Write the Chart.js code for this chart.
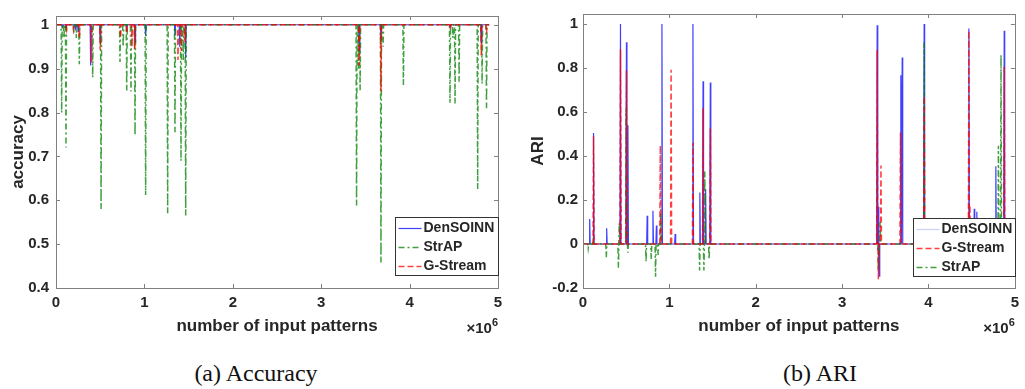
<!DOCTYPE html>
<html>
<head>
<meta charset="utf-8">
<script src="https://cdn.jsdelivr.net/npm/chart.js@4/dist/chart.umd.min.js"></script>
<style>
  body { margin: 0; background: #fff; width: 1025px; height: 389px; position: relative; overflow: hidden; }
  canvas { position: absolute; top: 0; }
  #accCanvas { left: 0; }
  #ariCanvas { left: 520px; }
  .caption { position: absolute; top: 360px; font-family: "Liberation Serif", serif; font-size: 24px; line-height: 26px; color: #111; transform: translateX(-50%); white-space: nowrap; }
</style>
</head>
<body>
<canvas id="accCanvas" width="512" height="345"></canvas>
<canvas id="ariCanvas" width="505" height="345"></canvas>
<div class="caption" style="left:256px">(a) Accuracy</div>
<div class="caption" style="left:820px">(b) ARI</div>
<script>
// x values are in millions of input patterns (axis shows x10^6)
const xTicks = [0, 1, 2, 3, 4, 5];
const accTicks = [0.4, 0.5, 0.6, 0.7, 0.8, 0.9, 1];
const ariTicks = [-0.2, 0, 0.2, 0.4, 0.6, 0.8, 1];

// Accuracy (a): dips below 1
const denAccX = [0.07, 0.113, 0.22, 0.25, 0.392, 0.50, 0.80, 0.894, 1.014, 1.346, 1.40, 1.467, 3.43, 3.676, 4.46, 4.81];
const denAccY = [0.995, 0.99, 0.99, 0.985, 0.907, 0.96, 0.985, 0.96, 0.975, 0.975, 0.95, 0.925, 0.94, 0.962, 0.995, 0.96];
const strapAccX = [0.064, 0.09, 0.113, 0.2, 0.23, 0.264, 0.415, 0.51, 0.724, 0.76, 0.80, 0.848, 0.894, 1.014, 1.263, 1.346, 1.414, 1.44, 1.467, 3.40, 3.42, 3.44, 3.676, 3.70, 3.93, 4.457, 4.49, 4.514, 4.56, 4.77, 4.82, 4.87];
const strapAccY = [0.80, 0.97, 0.72, 0.98, 0.97, 0.91, 0.88, 0.58, 0.915, 0.95, 0.85, 0.848, 0.748, 0.612, 0.57, 0.755, 0.69, 0.92, 0.565, 0.588, 0.90, 0.85, 0.458, 0.95, 0.862, 0.822, 0.97, 0.82, 0.87, 0.625, 0.866, 0.81];
const gsAccX = [0.12, 0.20, 0.264, 0.40, 0.50, 0.73, 0.80, 0.86, 0.89, 1.38, 1.42, 1.46, 3.43, 3.676, 4.46, 4.81, 4.87];
const gsAccY = [0.99, 0.99, 0.97, 0.914, 0.943, 0.97, 0.98, 0.95, 0.945, 0.92, 0.94, 0.96, 0.907, 0.848, 0.99, 0.93, 0.98];

// ARI (b): spikes around 0
const denAriX = [0.077, 0.122, 0.274, 0.434, 0.503, 0.52, 0.743, 0.81, 0.85, 0.914, 1.067, 1.273, 1.353, 1.39, 1.42, 1.474, 3.406, 3.42, 3.43, 3.68, 3.696, 3.95, 4.468, 4.53, 4.56, 4.78, 4.877];
const denAriY = [0.114, 0.505, 0.072, 1.0, 0.917, 0.54, 0.129, 0.151, 0.084, 1.0, 0.045, 1.0, 0.234, 0.74, 0.25, 0.735, 0.995, 0.17, -0.146, 0.767, 0.848, 1.0, 0.98, 0.16, 0.147, 0.354, 0.97];
const gsAriX = [0.122, 0.434, 0.503, 0.895, 1.02, 1.273, 1.39, 1.474, 3.406, 3.42, 3.45, 3.676, 3.95, 4.468, 4.48, 4.877];
const gsAriY = [0.49, 0.886, 0.79, 0.447, 0.793, 0.46, 0.617, 0.525, 0.883, -0.16, 0.357, 0.507, 0.672, 0.97, 0.177, 0.807];
const strapAriX = [0.06, 0.12, 0.27, 0.41, 0.42, 0.50, 0.52, 0.73, 0.79, 0.84, 0.87, 0.90, 1.35, 1.40, 1.41, 1.46, 3.42, 3.44, 3.95, 4.81, 4.84];
const strapAriY = [-0.02, 0.03, -0.06, -0.108, 0.095, 0.62, -0.04, -0.08, -0.07, -0.149, -0.05, 0.14, -0.12, -0.12, 0.33, -0.07, -0.12, 0.1, 0.92, 0.447, 0.86];

const BLUE = 'rgba(0,0,255,0.75)';
const RED = 'rgba(255,0,0,0.75)';
const GREEN = 'rgba(0,128,0,0.75)';
const AXIS = '#808080';
const TEXT = '#262626';
const FONT = '"Liberation Sans", Arial, sans-serif';

// Turn a list of spikes into a line sitting on the baseline
function spikes(xs, ys, base) {
  const pts = [{x: 0, y: base}];
  xs.forEach((x, i) => {
    pts.push({x: x - 0.006, y: base}, {x: x, y: ys[i]}, {x: x + 0.006, y: base});
  });
  pts.push({x: 4.9, y: base});
  return pts;
}

function series(label, data, color, dash, width, order) {
  return {label, data, borderColor: color, borderDash: dash, borderWidth: width,
    pointRadius: 0, tension: 0, fill: false, order};
}

// MATLAB-like box, inward ticks, legend and exponent label
const matlabAxes = {
  id: 'matlabAxes',
  afterDatasetsDraw(chart, args, opts) {
    const ctx = chart.ctx;
    const a = chart.chartArea;
    const xs = chart.scales.x, ys = chart.scales.y;
    ctx.save();
    ctx.strokeStyle = AXIS;
    ctx.lineWidth = 1;
    ctx.setLineDash([]);
    ctx.strokeRect(Math.round(a.left) + 0.5, Math.round(a.top) + 0.5, Math.round(a.right - a.left), Math.round(a.bottom - a.top));
    ctx.beginPath();
    xTicks.forEach(v => {
      const px = Math.round(xs.getPixelForValue(v)) + 0.5;
      ctx.moveTo(px, a.bottom); ctx.lineTo(px, a.bottom - 4);
      ctx.moveTo(px, a.top); ctx.lineTo(px, a.top + 4);
    });
    opts.yTicks.forEach(v => {
      const py = Math.round(ys.getPixelForValue(v)) + 0.5;
      ctx.moveTo(a.left, py); ctx.lineTo(a.left + 4, py);
      ctx.moveTo(a.right, py); ctx.lineTo(a.right - 4, py);
    });
    ctx.stroke();

    // legend box
    const bw = opts.legendWidth, bh = 58, rowH = 19;
    const bx = Math.round(a.right - bw) + 0.5, by = Math.round(a.bottom - opts.legendGap - bh) + 0.5;
    ctx.fillStyle = '#fff';
    ctx.fillRect(bx, by, bw, bh);
    ctx.strokeStyle = '#333';
    ctx.strokeRect(bx, by, bw, bh);
    ctx.font = 'bold 14px ' + FONT;
    ctx.textBaseline = 'middle';
    opts.legendOrder.forEach((idx, i) => {
      const ds = chart.data.datasets[idx];
      const cy = by + 11 + i * rowH;
      ctx.strokeStyle = (opts.legendColors && opts.legendColors[i]) || ds.borderColor;
      ctx.lineWidth = ds.borderWidth;
      ctx.setLineDash(ds.borderDash || []);
      ctx.beginPath();
      ctx.moveTo(bx + 3, cy); ctx.lineTo(bx + 26, cy);
      ctx.stroke();
      ctx.setLineDash([]);
      ctx.fillStyle = TEXT;
      ctx.fillText(ds.label, bx + 28, cy);
    });

    // x10^6 exponent
    ctx.fillStyle = TEXT;
    ctx.textBaseline = 'alphabetic';
    ctx.font = 'bold 11px ' + FONT;
    const sup = '6';
    const supW = ctx.measureText(sup).width;
    ctx.fillText(sup, a.right - supW, a.bottom + 38);
    ctx.font = 'bold 15px ' + FONT;
    const base = '\u00d710';
    const baseW = ctx.measureText(base).width;
    ctx.fillText(base, a.right - supW - baseW, a.bottom + 45);
    ctx.restore();
  }
};

function makeChart(id, datasets, yMin, yMax, yTicks, yTitle, yWidth, yPad, pad, legend) {
  return new Chart(document.getElementById(id), {
    type: 'line',
    data: {datasets},
    options: {
      responsive: false,
      animation: false,
      parsing: false,
      layout: {padding: pad},
      plugins: {
        legend: {display: false},
        tooltip: {enabled: false},
        matlabAxes: Object.assign({yTicks}, legend)
      },
      scales: {
        x: {
          type: 'linear', min: 0, max: 5,
          afterBuildTicks: s => { s.ticks = xTicks.map(v => ({value: v})); },
          afterFit: s => { s.height = 57; },
          grid: {display: false, drawTicks: false, tickLength: 0},
          border: {display: false},
          ticks: {color: TEXT, padding: 6, maxRotation: 0,
            font: {family: FONT, size: 15, weight: 'bold'},
            callback: v => String(v)},
          title: {display: true, text: 'number of input patterns', color: TEXT,
            font: {family: FONT, size: 17, weight: 'bold'},
            padding: {top: 0, bottom: 8}}
        },
        y: {
          type: 'linear', min: yMin, max: yMax,
          afterBuildTicks: s => { s.ticks = yTicks.map(v => ({value: v})); },
          afterFit: s => { s.width = yWidth; },
          grid: {display: false, drawTicks: false, tickLength: 0},
          border: {display: false},
          ticks: {color: TEXT, padding: yPad,
            font: {family: FONT, size: 15, weight: 'bold'},
            callback: v => String(Math.round(v * 10) / 10)},
          title: {display: true, text: yTitle, color: TEXT,
            font: {family: FONT, size: 17, weight: 'bold'},
            padding: {top: 8, bottom: 0}}
        }
      }
    },
    plugins: [matlabAxes]
  });
}

makeChart('accCanvas', [
  series('DenSOINN', spikes(denAccX, denAccY, 1), BLUE, [], 1.2, 3),
  series('StrAP', spikes(strapAccX, strapAccY, 1), GREEN, [6, 3, 2, 3], 1.5, 2),
  series('G-Stream', spikes(gsAccX, gsAccY, 1), RED, [6, 3], 1.5, 1)
], 0.4, 1.02, accTicks, 'accuracy', 56, 7, {left: 0, top: 7, right: 14, bottom: 0},
  {legendOrder: [0, 1, 2], legendWidth: 103, legendGap: 13});

makeChart('ariCanvas', [
  series('DenSOINN', spikes(denAriX, denAriY, 0), BLUE, [], 1.2, 3),
  series('G-Stream', spikes(gsAriX, gsAriY, 0), RED, [6, 3], 1.5, 1),
  series('StrAP', spikes(strapAriX, strapAriY, 0), GREEN, [6, 3, 2, 3], 1.5, 2)
], -0.2, 1.046, ariTicks, 'ARI', 63, 5, {left: 0, top: 11, right: 4, bottom: 0},
  {legendOrder: [0, 1, 2], legendWidth: 102, legendGap: 12, legendColors: ['rgba(120,140,255,0.4)']});
</script>
</body>
</html>
